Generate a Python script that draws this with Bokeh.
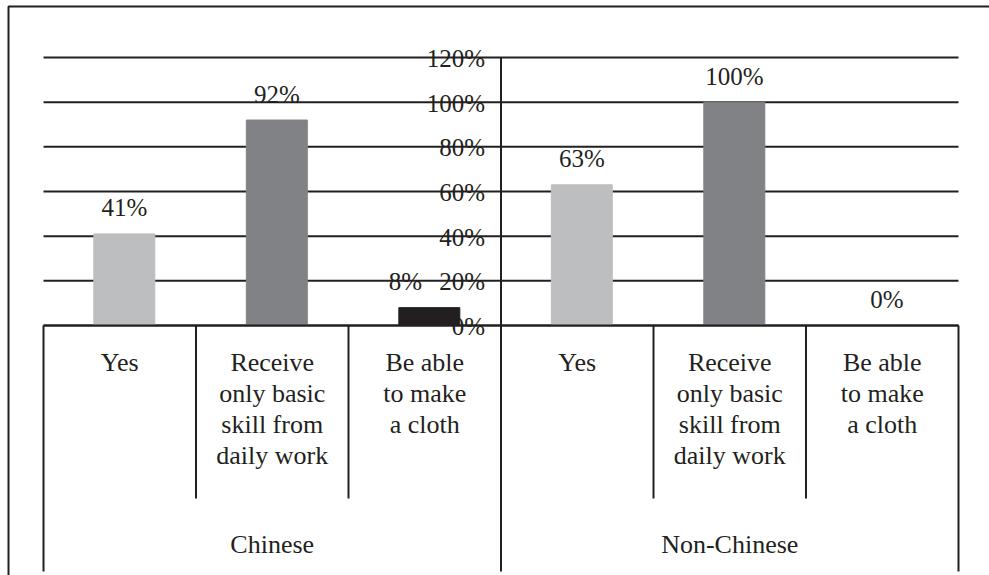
from bokeh.plotting import figure
from bokeh.models import ColumnDataSource, Range1d
from bokeh.core.properties import value
from bokeh.embed import file_html
from bokeh.resources import INLINE

# ---- data ---------------------------------------------------------------
groups = ["Chinese", "Non-Chinese"]
categories = [
    "Yes",
    "Receive\nonly basic\nskill from\ndaily work",
    "Be able\nto make\na cloth",
]
chinese = [41, 92, 8]
non_chinese = [63, 100, 0]
y_ticks = [0, 20, 40, 60, 80, 100, 120]
y_tick_labels = ["0%", "20%", "40%", "60%", "80%", "100%", "120%"]

# ---- styling / layout ---------------------------------------------------
W, H = 989, 575
FONT = value("Liberation Serif")
INK = "#231f20"
bar_colors = ["#bcbec0", "#808285", "#231f20"]
left_px, slot_px = 43, 152.5          # plot area left edge and width of one category slot
axis_px, top_px = 325, 57             # pixel rows of 0% and 120%
ppp = (axis_px - top_px) / 120.0      # pixels per percentage point
bar_width = 0.4
bar_shift = 0.03
label_dx = [0, 0, -24, 0, 0, 0]       # nudge for the small bar's label (clears the axis labels)


def below(px):
    """Data y for a point `px` pixels below the 0% line."""
    return -px / ppp


p = figure(
    width=W, height=H, output_backend="svg", toolbar_location=None,
    x_range=Range1d(-left_px / slot_px, (W - left_px) / slot_px),
    y_range=Range1d(-(H - axis_px) / ppp, axis_px / ppp),
    min_border=0, min_border_left=0, min_border_right=0,
    min_border_top=0, min_border_bottom=0,
)
p.axis.visible = False
p.grid.visible = False
p.outline_line_color = None
p.background_fill_color = "white"
p.border_fill_color = "white"

n_cat = len(categories)
values = chinese + non_chinese
xs = [i + 0.5 for i in range(len(values))]
colors = bar_colors * len(groups)

src = ColumnDataSource(dict(
    x=[x + bar_shift for x in xs],
    top=values,
    color=colors,
    label=[f"{v}%" for v in values],
    dx=label_dx,
))

# value axis labels, centred on the group divider
p.text(x=[n_cat] * len(y_ticks), y=y_ticks, text=y_tick_labels,
       text_font=FONT, text_font_size="25px", text_color=INK,
       text_align="right", text_baseline="alphabetic",
       x_offset=-16, y_offset=1)

# data labels above the bars
p.text(x="x", y="top", text="label", source=src,
       text_font=FONT, text_font_size="25px", text_color=INK,
       text_align="center", text_baseline="alphabetic",
       x_offset="dx", y_offset=-26)

# horizontal grid lines
x_end = len(values)
p.segment(x0=[0] * len(y_ticks), x1=[x_end] * len(y_ticks), y0=y_ticks, y1=y_ticks,
          line_color=INK, line_width=2)

# bars
p.vbar(x="x", top="top", bottom=0, width=bar_width, color="color", source=src)

# category table below the axis
inner = [i for i in range(1, x_end) if i % n_cat != 0]
outer = [i for i in range(0, x_end + 1) if i % n_cat == 0]
p.segment(x0=inner, x1=inner, y0=[0] * len(inner), y1=[below(173)] * len(inner),
          line_color=INK, line_width=2)
p.segment(x0=outer, x1=outer,
          y0=[0 if i != n_cat else y_ticks[-1] for i in outer],
          y1=[below(246)] * len(outer),
          line_color=INK, line_width=2)
p.segment(x0=[0], x1=[x_end], y0=[0], y1=[0], line_color=INK, line_width=2)

p.text(x=xs, y=[below(22)] * len(xs), text=categories * len(groups),
       text_font=FONT, text_font_size="26px", text_color=INK,
       text_align="center", text_baseline="top", text_line_height=1.07)

p.text(x=[n_cat * (g + 0.5) for g in range(len(groups))], y=[below(219)] * len(groups),
       text=groups, text_font=FONT, text_font_size="26px", text_color=INK,
       text_align="center", text_baseline="alphabetic")

# page frame
fx = (8 - left_px) / slot_px
fy = (axis_px - 6) / ppp
p.line(x=[fx, fx, (W - left_px) / slot_px], y=[-(H - axis_px) / ppp, fy, fy],
       line_color=INK, line_width=2)

open("out.html", "w").write(file_html(p, INLINE))
